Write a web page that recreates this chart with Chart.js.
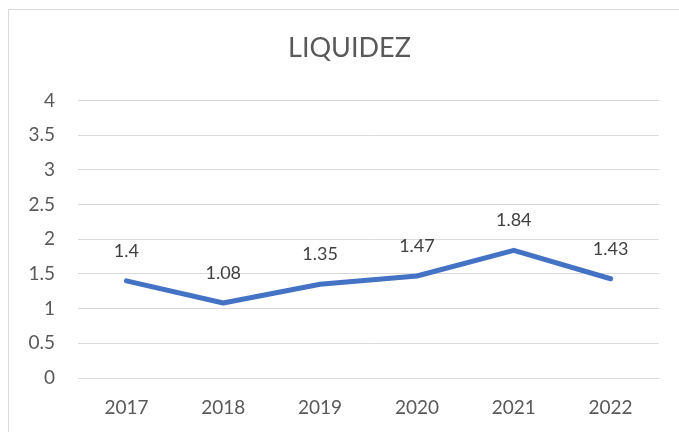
<!DOCTYPE html>
<html>
<head>
<meta charset="utf-8">
<script src="https://cdn.jsdelivr.net/npm/chart.js@4.4.0/dist/chart.umd.min.js"></script>
<style>
  html, body { margin: 0; padding: 0; background: #fff; }
  #wrap { position: absolute; left: 0; top: 0; width: 679px; height: 432px; }
</style>
</head>
<body>
<div id="wrap"><canvas id="myChart" width="679" height="432"></canvas></div>
<script>
// datos
var years = ['2017', '2018', '2019', '2020', '2021', '2022'];
var liquidez = [1.4, 1.08, 1.35, 1.47, 1.84, 1.43];
var yTicks = [0, 0.5, 1, 1.5, 2, 2.5, 3, 3.5, 4];

var FONT = 'Lato, "Open Sans", sans-serif';

// marco gris del grafico
var framePlugin = {
	id: 'frame',
	afterLayout: function(chart) {
		// el titulo queda algo corrido a la derecha, como en Excel
		if (chart.titleBlock) chart.titleBlock.left += 40;
	},
	beforeDraw: function(chart) {
		let ctx = chart.ctx;
		ctx.save();
		ctx.fillStyle = '#fff';
		ctx.fillRect(0, 0, chart.width, chart.height);
		ctx.strokeStyle = '#d9d9d9';
		ctx.lineWidth = 1;
		ctx.beginPath();
		ctx.moveTo(8.5, chart.height);
		ctx.lineTo(8.5, 9.5);
		ctx.lineTo(chart.width, 9.5);
		ctx.stroke();
		ctx.restore();
	}
};

// etiquetas de valor encima de cada punto
var labelPlugin = {
	id: 'valueLabels',
	afterDatasetsDraw: function(chart) {
		let ctx = chart.ctx;
		let meta = chart.getDatasetMeta(0);
		ctx.save();
		ctx.font = '18px ' + FONT;
		ctx.fillStyle = '#404040';
		ctx.textAlign = 'center';
		ctx.textBaseline = 'middle';
		meta.data.forEach((pt, i) => {
			ctx.fillText(String(chart.data.datasets[0].data[i]), pt.x, pt.y - 30);
		});
		ctx.restore();
	}
};

var ctx = document.getElementById('myChart').getContext('2d');
var chart = new Chart(ctx, {
	type: 'line',
	data: {
		labels: years,
		datasets: [{
			label: 'LIQUIDEZ',
			data: liquidez,
			borderColor: '#4472C4',
			backgroundColor: '#4472C4',
			borderWidth: 5,
			borderCapStyle: 'round',
			borderJoinStyle: 'round',
			pointRadius: 0,
			tension: 0
		}]
	},
	options: {
		responsive: false,
		animation: false,
		layout: { padding: { left: 0, right: 20, top: 0, bottom: 0 } },
		plugins: {
			legend: { display: false },
			tooltip: { enabled: false },
			title: {
				display: true,
				text: 'LIQUIDEZ',
				color: '#595959',
				font: { family: FONT, size: 27, weight: 'normal' },
				padding: { top: 32, bottom: 36 }
			}
		},
		scales: {
			x: {
				offset: true,
				grid: { display: false, drawTicks: false },
				border: { display: false },
				ticks: {
					color: '#595959',
					font: { family: FONT, size: 19 },
					padding: 18,
					maxRotation: 0
				},
				afterFit: function(scale) { scale.height = 54; }
			},
			y: {
				min: 0,
				max: 4,
				afterBuildTicks: function(scale) {
					scale.ticks = yTicks.map(v => ({ value: v }));
				},
				grid: { color: '#d9d9d9', lineWidth: 1, drawTicks: false },
				border: { display: false },
				ticks: {
					color: '#595959',
					font: { family: FONT, size: 19 },
					padding: 23,
					callback: function(v) { return String(v); }
				},
				afterFit: function(scale) { scale.width = 78; }
			}
		}
	},
	plugins: [framePlugin, labelPlugin]
});
</script>
</body>
</html>
